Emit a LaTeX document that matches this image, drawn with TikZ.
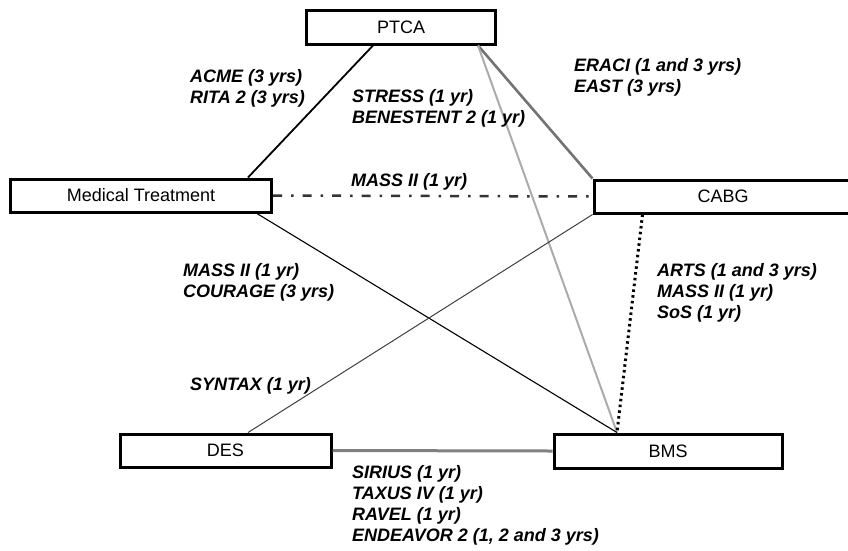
\documentclass[tikz,border=0pt]{standalone}
\usepackage{fontspec}
\setmainfont{Liberation Sans}
\begin{document}
\begin{tikzpicture}[x=1pt,y=-1pt,
  box/.style={draw=black, line width=3pt, rectangle, inner sep=0pt, font=\fontsize{18}{21}\selectfont},
  lbl/.style={anchor=north west, align=left, inner sep=0pt, font=\fontsize{18}{21}\selectfont\bfseries\itshape},
  darkline/.style={line width=1.8pt, black},
  thinline/.style={line width=1.1pt, black},
]
\useasboundingbox (0,0) rectangle (848,550);

% boxes
\node[box, minimum width=189pt, minimum height=34pt] (PTCA) at (401,27) {PTCA};
\node[box, minimum width=261pt, minimum height=33pt] (MT) at (141,195.5) {Medical Treatment};
\node[box, minimum width=258pt, minimum height=33pt] (CABG) at (723,196.5) {CABG};
\node[box, minimum width=211pt, minimum height=33pt] (DES) at (225.5,450.5) {DES};
\node[box, minimum width=228pt, minimum height=34pt] (BMS) at (668,451) {BMS};

% connectors
\draw[darkline] ([xshift=-28pt]PTCA.south) -- ([xshift=107pt]MT.north);
\draw[line width=2.6pt, black!55] ([xshift=77pt]PTCA.south) -- (CABG.north west);
\draw[line width=2pt, black!33] ([xshift=77pt]PTCA.south) -- ([xshift=-51pt]BMS.north);
\draw[line width=2.5pt, black!80, dash pattern=on 9pt off 9pt on 2.5pt off 9pt] (MT.east) -- (CABG.west);
\draw[thinline] ([xshift=116pt]MT.south) -- ([xshift=-51pt]BMS.north);
\draw[line width=1pt, black!75] (CABG.south west) -- ([xshift=22.5pt]DES.north);
\draw[line width=3pt, black, dash pattern=on 2.5pt off 3.3pt] ([xshift=50pt]CABG.south west) -- ([xshift=-51pt]BMS.north);
\draw[line width=3pt, black!50] (DES.east) -- (BMS.west);

% labels
\node[lbl] (l1) at (190,69.5) {ACME (3 yrs)\\RITA 2 (3 yrs)};
\node[lbl] (l2) at (352,89.5) {STRESS (1 yr)\\BENESTENT 2 (1 yr)};
\node[lbl] (l3) at (574,58.5) {ERACI (1 and 3 yrs)\\EAST (3 yrs)};
\node[lbl] (l4) at (351,173.5) {MASS II (1 yr)};
\node[lbl] (l5) at (183,263.5) {MASS II (1 yr)\\COURAGE (3 yrs)};
\node[lbl] (l6) at (657,263.5) {ARTS (1 and 3 yrs)\\MASS II (1 yr)\\SoS (1 yr)};
\node[lbl] (l7) at (190,377.5) {SYNTAX (1 yr)};
\node[lbl] (l8) at (352,465) {SIRIUS (1 yr)\\TAXUS IV (1 yr)\\RAVEL (1 yr)\\ENDEAVOR 2 (1, 2 and 3 yrs)};
\end{tikzpicture}
\end{document}
